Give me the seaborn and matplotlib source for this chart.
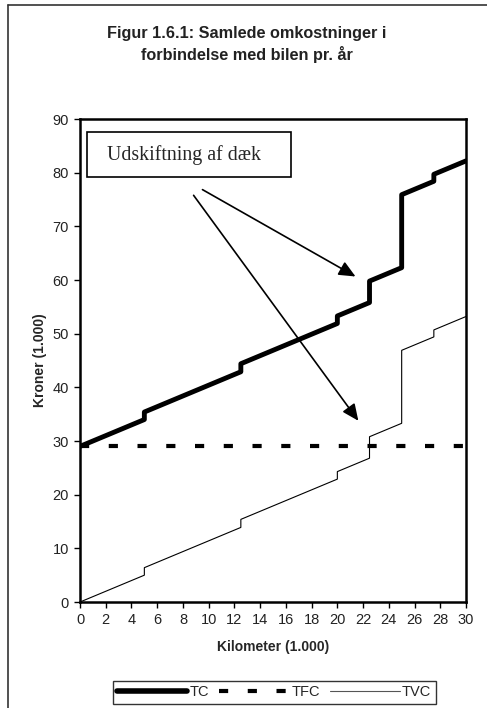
import pandas as pd
import matplotlib.pyplot as plt
import seaborn as sns
from matplotlib.lines import Line2D
from matplotlib.patches import Rectangle

# Kilometer (1.000) - dobbelte værdier giver de lodrette spring
km = [0, 5, 5, 12.5, 12.5, 20, 20, 22.5, 22.5, 25, 25, 27.5, 27.5, 30]
tvc = [0, 5, 6.4, 13.9, 15.4, 22.9, 24.3, 26.8, 30.8, 33.3, 46.9, 49.4, 50.7, 53.2]
tc = [29, 34, 35.4, 42.9, 44.4, 51.9, 53.3, 55.8, 59.8, 62.3, 75.9, 78.4, 79.7, 82.2]
tfc_km = [0, 30]
tfc = [29, 29]

x_ticks = list(range(0, 31, 2))
y_ticks = list(range(0, 91, 10))

data = pd.DataFrame({'km': km, 'TC': tc, 'TVC': tvc})
data_tfc = pd.DataFrame({'km': tfc_km, 'TFC': tfc})

sns.set_style('white')
plt.rcParams['font.family'] = ['Liberation Sans', 'DejaVu Sans']

fig = plt.figure(figsize=(4.87, 7.08), dpi=100)
ax = fig.add_axes([0.1643, 0.1497, 0.7926, 0.6822])

sns.lineplot(data=data, x='km', y='TVC', ax=ax, estimator=None, sort=False,
             color='black', linewidth=0.8)
sns.lineplot(data=data_tfc, x='km', y='TFC', ax=ax, estimator=None, sort=False,
             color='black', linewidth=3.0, dashes=False)
ax.lines[-1].set_dashes((2.2, 4.7))
sns.lineplot(data=data, x='km', y='TC', ax=ax, estimator=None, sort=False,
             color='black', linewidth=3.5)
ax.lines[-1].set_solid_capstyle('round')

ax.set_xlim(0, 30)
ax.set_ylim(0, 90)
ax.set_xticks(x_ticks)
ax.set_yticks(y_ticks)
ax.tick_params(axis='both', direction='out', length=4, width=1, color='black',
               labelsize=10.5, labelcolor='#222222', pad=4, bottom=True, left=True)
for s in ax.spines.values():
    s.set_linewidth(1.8)
    s.set_color('black')

ax.set_xlabel("Kilometer (1.000)", fontsize=10, fontweight='bold', labelpad=9)
ax.set_ylabel("Kroner (1.000)", fontsize=10, fontweight='bold', labelpad=4)

# Tekstboks og pile
ax.add_patch(Rectangle((0.54, 79.2), 15.86, 8.37, facecolor='white', edgecolor='black',
                       linewidth=1.2, zorder=5))
ax.text(2.1, 83.3, "Udskiftning af dæk", fontsize=14.3, family=['Liberation Serif'],
        va='center', ha='left', zorder=6)
ax.annotate("", xy=(21.6, 60.4), xytext=(9.33, 77.1),
            arrowprops=dict(arrowstyle='-|>,head_length=1.0,head_width=0.45', color='black', lw=1.2))
ax.annotate("", xy=(21.76, 33.35), xytext=(8.7, 76.2),
            arrowprops=dict(arrowstyle='-|>,head_length=1.0,head_width=0.45', color='black', lw=1.2))

fig.suptitle("Figur 1.6.1: Samlede omkostninger i\nforbindelse med bilen pr. år",
             x=0.507, y=0.963, fontsize=11.7, fontweight='bold', color='#222222', linespacing=1.35)

# Forklaring
handles = [
    Line2D([0], [0], color='black', linewidth=4, solid_capstyle='round'),
    Line2D([0], [0], color='black', linewidth=3.0, dashes=(2.2, 4.7)),
    Line2D([0], [0], color='#555555', linewidth=0.8),
]
leg = fig.legend(handles, ['TC', 'TFC', 'TVC'], loc='center', bbox_to_anchor=(0.563, 0.022),
                 ncol=3, frameon=True, fancybox=False, fontsize=10.5, handlelength=4.8,
                 handletextpad=0.15, columnspacing=0.7, borderpad=0.3, borderaxespad=0)
leg.get_frame().set_edgecolor('black')
leg.get_frame().set_linewidth(1.0)

# Ydre ramme
fig.add_artist(Line2D([0.0164, 0.0164], [0.0, 0.993], transform=fig.transFigure, color='#333333', linewidth=1.2))
fig.add_artist(Line2D([0.0164, 1.0], [0.993, 0.993], transform=fig.transFigure, color='#333333', linewidth=1.2))

plt.savefig("out.png", dpi=100)
plt.close()
